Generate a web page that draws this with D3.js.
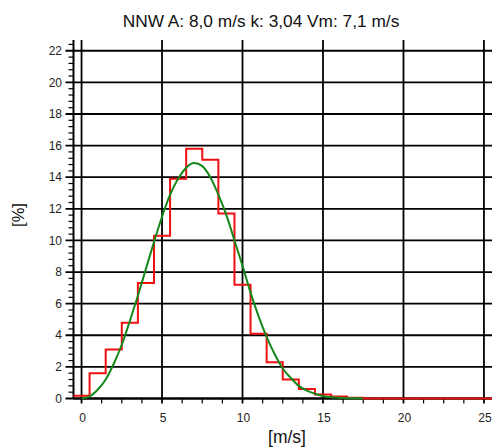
<!DOCTYPE html>
<html>
<head>
<meta charset="utf-8">
<script src="https://cdn.jsdelivr.net/npm/d3@7"></script>
<style>
  html, body { margin: 0; padding: 0; background: #fff; }
  svg { display: block; font-family: "Liberation Sans", Arial, sans-serif; }
</style>
</head>
<body>
<svg id="chart" width="495" height="448"></svg>
<script>
// Wind-speed frequency distribution, sector NNW
const titleText = "NNW A: 8,0 m/s k: 3,04 Vm: 7,1 m/s";
const xLabel = "[m/s]";
const yLabel = "[%]";

// Measured histogram: 1 m/s bins centred on each integer speed
const binCenters = [0,1,2,3,4,5,6,7,8,9,10,11,12,13,14,15,16,17,18,19,20,21,22,23,24,25];
const binPercent = [0.17,1.6,3.1,4.8,7.3,10.3,13.9,15.8,15.1,11.7,7.2,4.1,2.3,1.2,0.6,0.25,0.12,0.05,0,0,0,0,0,0,0,0];

// Fitted distribution curve
const fitSpeed   = [0,0.5,1,1.5,2,2.5,3,3.5,4,4.5,5,5.5,6,6.5,7,7.5,8,8.5,9,9.5,10,10.5,11,11.5,12,12.5,13,13.5,14,14.5,15,15.5,16,16.5,17,17.5];
const fitPercent = [0,0.13,0.55,1.2,2.2,3.4,4.9,6.5,8.2,9.9,11.5,12.9,13.9,14.6,14.9,14.7,14.0,12.9,11.6,10.0,8.4,6.7,5.2,3.9,2.8,1.9,1.3,0.8,0.5,0.3,0.16,0.08,0.04,0.02,0.01,0];

const xTicks = [0,5,10,15,20,25];
const yTicks = [0,2,4,6,8,10,12,14,16,18,20,22];

const svg = d3.select("#chart");

const plotLeft = 73.5, plotRight = 492, plotTop = 40, plotBottom = 398.5;
const x = d3.scaleLinear().domain([-0.5, 25.5]).range([plotLeft, plotRight]);
const y = d3.scaleLinear().domain([0, 22.68]).range([plotBottom, plotTop]);

const ink = "#000";

// Horizontal grid lines (with the major y ticks)
svg.append("g").selectAll("line").data(yTicks).join("line")
  .attr("x1", plotLeft - 8).attr("x2", plotRight)
  .attr("y1", d => y(d)).attr("y2", d => y(d))
  .attr("stroke", ink).attr("stroke-width", 1.8);

// Vertical grid lines, running a little below the axis as major ticks
svg.append("g").selectAll("line").data(xTicks).join("line")
  .attr("x1", d => x(d)).attr("x2", d => x(d))
  .attr("y1", plotTop).attr("y2", plotBottom + 5)
  .attr("stroke", ink).attr("stroke-width", 1.8);

// Minor ticks
const yMinor = d3.range(0, 22.6, 0.4).filter(v => Math.abs(v / 2 - Math.round(v / 2)) > 1e-6);
svg.append("g").selectAll("line").data(yMinor).join("line")
  .attr("x1", plotLeft - 5).attr("x2", plotLeft)
  .attr("y1", d => y(d)).attr("y2", d => y(d))
  .attr("stroke", ink).attr("stroke-width", 1.2);

const xMinor = d3.range(1.25, 25.5, 1.25).filter(v => Math.abs(v / 5 - Math.round(v / 5)) > 1e-6);
svg.append("g").selectAll("line").data(xMinor).join("line")
  .attr("x1", d => x(d)).attr("x2", d => x(d))
  .attr("y1", plotBottom).attr("y2", plotBottom + 5)
  .attr("stroke", ink).attr("stroke-width", 1.2);

// Axis lines
svg.append("line").attr("x1", plotLeft).attr("x2", plotLeft).attr("y1", plotTop).attr("y2", plotBottom)
  .attr("stroke", ink).attr("stroke-width", 2);
svg.append("line").attr("x1", plotLeft).attr("x2", plotRight).attr("y1", plotBottom).attr("y2", plotBottom)
  .attr("stroke", ink).attr("stroke-width", 2);

// Tick labels
svg.append("g").selectAll("text").data(yTicks).join("text")
  .attr("x", 62).attr("y", d => y(d)).attr("dy", "0.35em")
  .attr("text-anchor", "end").attr("font-size", 12).attr("fill", "#222")
  .text(d => d);

svg.append("g").selectAll("text").data(xTicks).join("text")
  .attr("x", d => x(d) + 1).attr("y", 422)
  .attr("text-anchor", "middle").attr("font-size", 12).attr("fill", "#222")
  .text(d => d);

// Histogram steps
const stepPts = binCenters.map((c, i) => [c - 0.5, binPercent[i]]);
stepPts.push([binCenters[binCenters.length - 1] + 0.5, binPercent[binPercent.length - 1]]);
svg.append("path")
  .attr("d", d3.line().x(d => x(d[0])).y(d => y(d[1])).curve(d3.curveStepAfter)(stepPts))
  .attr("fill", "none").attr("stroke", "#f01010").attr("stroke-width", 2);

// Fitted curve
const fitPts = fitSpeed.map((s, i) => [s, fitPercent[i]]);
svg.append("path")
  .attr("d", d3.line().x(d => x(d[0])).y(d => y(d[1])).curve(d3.curveMonotoneX)(fitPts))
  .attr("fill", "none").attr("stroke", "#15871a").attr("stroke-width", 2);

// Titles
svg.append("text").attr("x", 261).attr("y", 26.5).attr("text-anchor", "middle")
  .attr("font-size", 17.3).attr("fill", "#111").text(titleText);

svg.append("text").attr("x", 287).attr("y", 443).attr("text-anchor", "middle")
  .attr("font-size", 17.5).attr("fill", "#111").text(xLabel);

svg.append("text").attr("transform", "translate(24,215) rotate(-90)")
  .attr("text-anchor", "middle").attr("font-size", 16.5).attr("fill", "#111").text(yLabel);
</script>
</body>
</html>
